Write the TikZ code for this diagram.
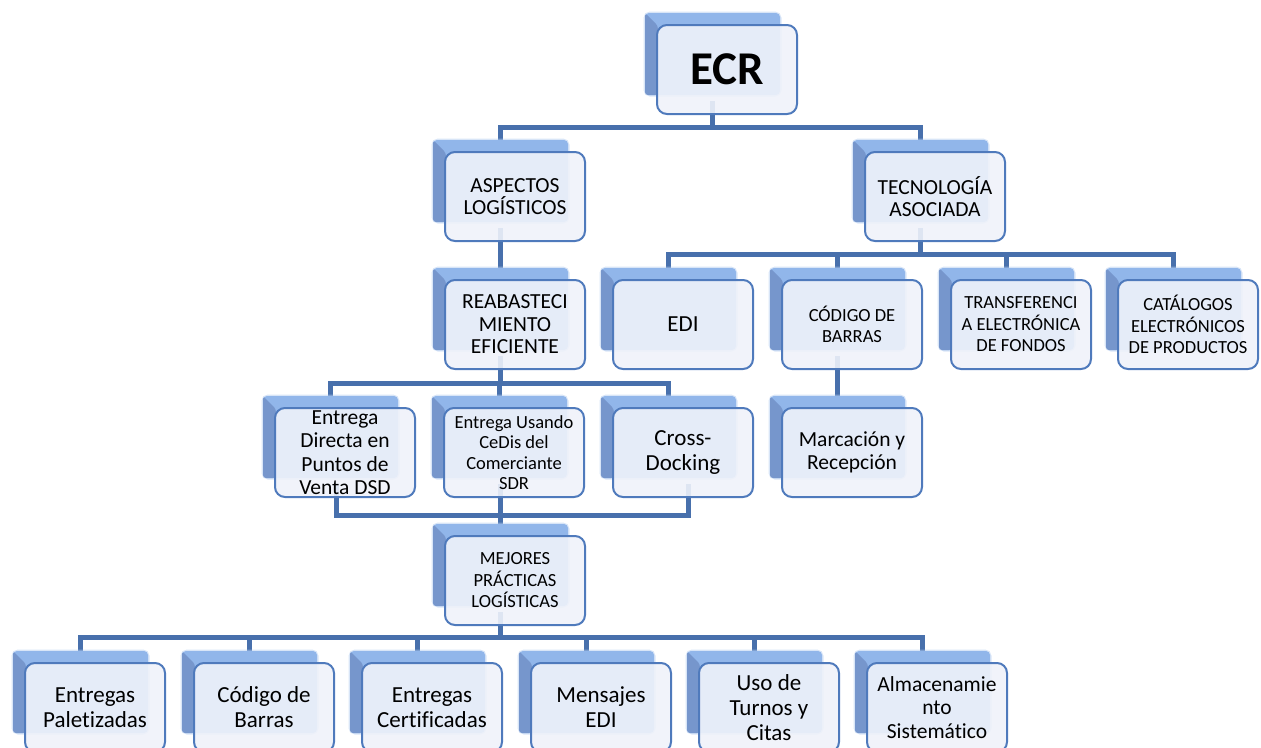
\documentclass[tikz,border=0pt]{standalone}
\usepackage{fontspec}
\setmainfont{Carlito}[Ligatures=NoCommon]
\usetikzlibrary{calc}

\definecolor{linea}{RGB}{72,112,172}
\definecolor{borde}{RGB}{79,122,188}
\definecolor{relleno}{RGB}{239,242,250}
\definecolor{sombraA}{RGB}{145,182,234}
\definecolor{sombraB}{RGB}{118,150,204}

\pgfdeclarelayer{fondo}
\pgfsetlayers{fondo,main}

\tikzset{
  conn/.style={draw=linea, line width=5pt},
  frente/.style={draw=borde, line width=2pt, rounded corners=10pt, fill=relleno,
    fill opacity=.9, text opacity=1, minimum width=140pt, minimum height=89pt,
    inner sep=0pt, align=center},
  tECR/.style={font=\fontsize{47}{52}\selectfont\bfseries},
  tG/.style={font=\fontsize{23}{25}\selectfont},
  tM/.style={font=\fontsize{21.5}{23.5}\selectfont},
  tN/.style={font=\fontsize{21.5}{22.5}\selectfont},
  tS/.style={font=\fontsize{18.5}{21.5}\selectfont},
  tXS/.style={font=\fontsize{18.5}{20.5}\selectfont},
}

% caja con sombra: nombre, x del conector, y superior, texto
\newcommand\caja[5][]{%
  \draw[sombraA!70!white, line width=3pt, draw opacity=.5, rounded corners=5pt] (#3-67,#4-12) rectangle (#3+68,#4+70);
  \fill[sombraA, rounded corners=4pt] (#3-67,#4-12) rectangle (#3+68,#4+70);
  \fill[sombraB, rounded corners=3pt] (#3-67,#4-12) -- (#3-54,#4+1) -- (#3-54,#4+70) -- (#3-67,#4+70) -- cycle;
  \node[frente,#1] (#2) at (#3+15,#4+44.5) {#5};
}

\begin{document}
\begin{tikzpicture}[x=1pt,y=-1pt]
  \useasboundingbox (0,0) rectangle (1261,747);

  % nivel 0 y 1
  \caja[tECR]{ecr}{712}{25}{ECR}
  \caja[tN]{asp}{500}{152}{ASPECTOS\\LOGÍSTICOS}
  \caja[tN]{tec}{920}{152}{TECNOLOGÍA\\ASOCIADA}

  % nivel 2
  \caja[tN]{rea}{500}{280}{REABASTECI\\MIENTO\\EFICIENTE}
  \caja[tG]{edi}{668}{280}{EDI}
  \caja[tS]{cod}{837}{280}{CÓDIGO DE\\BARRAS}
  \caja[tS]{tra}{1006}{280}{TRANSFERENCI\\A ELECTRÓNICA\\DE FONDOS}
  \caja[tS]{cat}{1173}{280}{CATÁLOGOS\\ELECTRÓNICOS\\DE PRODUCTOS}

  % nivel 3
  \caja[tM]{dsd}{330}{408}{Entrega\\Directa en\\Puntos de\\Venta DSD}
  \caja[tXS]{sdr}{499}{408}{Entrega Usando\\CeDis del\\Comerciante\\SDR}
  \caja[tG]{cro}{668}{408}{Cross-\\Docking}
  \caja[tM]{mar}{837}{408}{Marcación y\\Recepción}

  % nivel 4
  \caja[tS]{mej}{500}{536}{MEJORES\\PRÁCTICAS\\LOGÍSTICAS}

  % nivel 5
  \caja[tG]{pal}{80}{663}{Entregas\\Paletizadas}
  \caja[tG]{bar}{249}{663}{Código de\\Barras}
  \caja[tG]{cer}{417}{663}{Entregas\\Certificadas}
  \caja[tG]{men}{586}{663}{Mensajes\\EDI}
  \caja[tG]{tur}{754}{663}{Uso de\\Turnos y\\Citas}
  \caja[tM]{alm}{922}{663}{Almacenamie\\nto\\Sistemático}

  % conectores
  \begin{pgfonlayer}{fondo}
    \foreach \h in {asp,tec}
      \draw[conn] ([xshift=-15pt,yshift=14pt]ecr.south) |- ([xshift=-15pt]\h.north |- 0,127) -- ([xshift=-15pt]\h.north);
    \draw[conn] ([xshift=-15pt,yshift=14pt]asp.south) -- ([xshift=-15pt]rea.north);
    \foreach \h in {edi,cod,tra,cat}
      \draw[conn] ([xshift=-15pt,yshift=14pt]tec.south) |- ([xshift=-15pt]\h.north |- 0,254) -- ([xshift=-15pt]\h.north);
    \foreach \h in {dsd,sdr,cro}
      \draw[conn] ([xshift=-15pt,yshift=14pt]rea.south) |- ([xshift=-15pt]\h.north |- 0,383) -- ([xshift=-15pt]\h.north);
    \draw[conn] ([xshift=-15pt,yshift=14pt]cod.south) -- ([xshift=-15pt]mar.north);
    \foreach \h/\d in {dsd/-9,sdr/-14,cro/5}
      \draw[conn] ([xshift=\d pt,yshift=14pt]\h.south) |- ([xshift=-15pt]mej.north |- 0,515) -- ([xshift=-15pt]mej.north);
    \foreach \h in {pal,bar,cer,men,tur,alm}
      \draw[conn] ([xshift=-15pt,yshift=14pt]mej.south) |- ([xshift=-15pt]\h.north |- 0,637) -- ([xshift=-15pt]\h.north);
  \end{pgfonlayer}
\end{tikzpicture}
\end{document}
